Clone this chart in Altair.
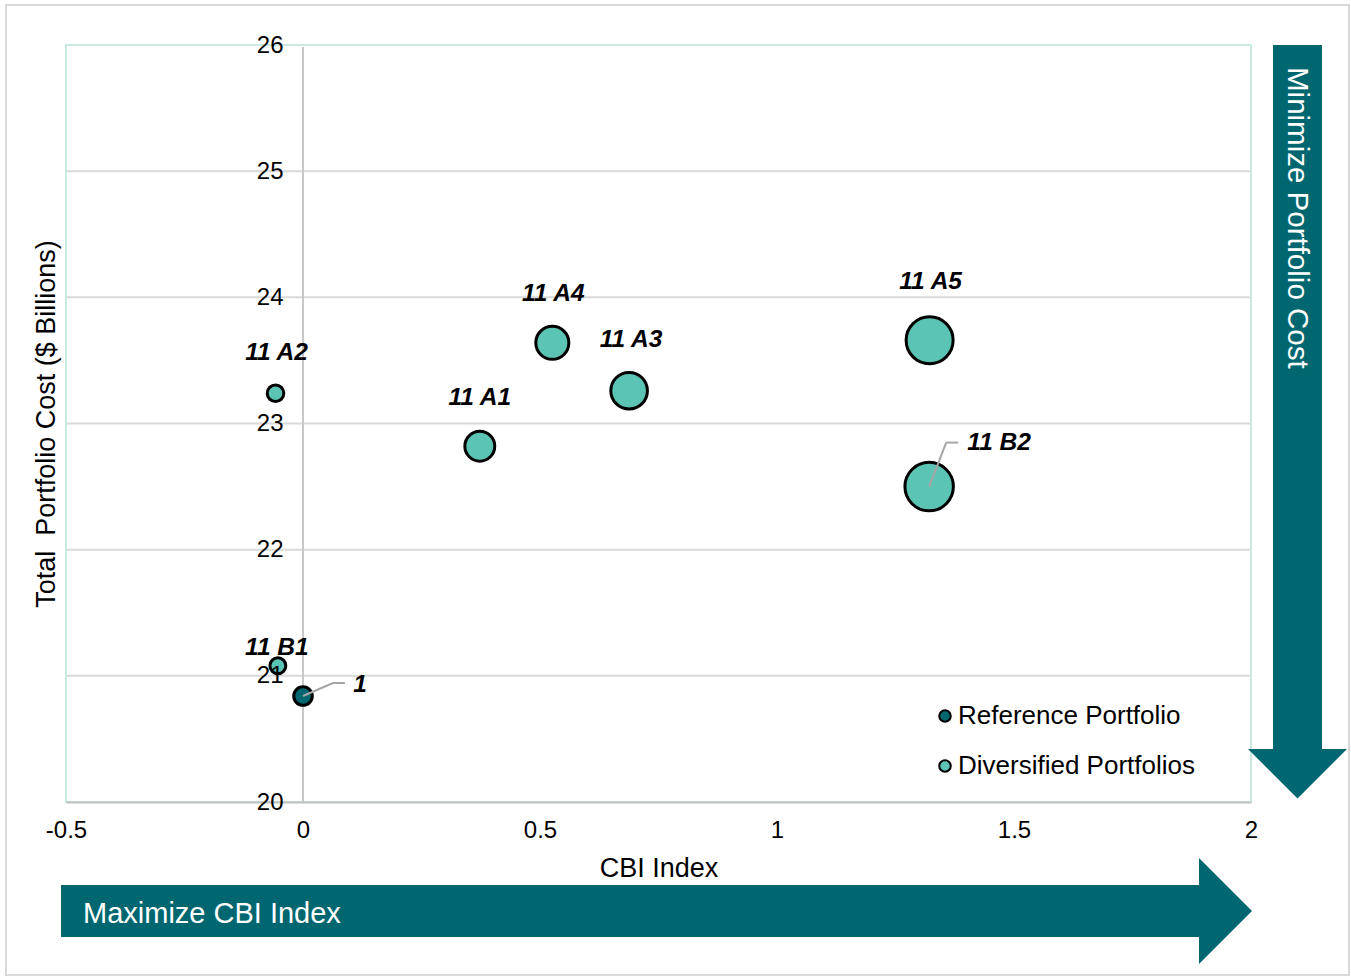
import altair as alt
import pandas as pd

# ---- data -------------------------------------------------------------
portfolios = ["1", "11 A1", "11 A2", "11 A3", "11 A4", "11 A5", "11 B1", "11 B2"]
groups = ["Reference Portfolio"] + ["Diversified Portfolios"] * 7
cbi_index = [0.0, 0.373, -0.058, 0.688, 0.526, 1.322, -0.053, 1.321]
total_cost = [20.84, 22.82, 23.24, 23.26, 23.64, 23.66, 21.08, 22.50]
bubble_size = [0.147, 0.38, 0.117, 0.57, 0.465, 0.94, 0.108, 1.0]

x_ticks = [-0.5, 0, 0.5, 1, 1.5, 2]
y_ticks = [20, 21, 22, 23, 24, 25, 26]
legend_order = ["Reference Portfolio", "Diversified Portfolios"]

df = pd.DataFrame({
    "portfolio": portfolios,
    "group": groups,
    "cbi": cbi_index,
    "cost": total_cost,
    "bubble": bubble_size,
})
grid_df = pd.DataFrame({"cost": y_ticks})

# ---- layout / style -----------------------------------------------------
W, H = 1351, 976
LEFT, TOP = 66, 45           # plot origin inside the page
PW, PH = 1185, 757           # plot area
DARK = "#00666F"
LIGHT = "#5BC4B5"
FONT = "Liberation Sans"
X_DOMAIN = [-0.5, 2]
Y_DOMAIN = [20, 26]

# y axis labels sit next to x = 0
y_axis_offset = -(0 - X_DOMAIN[0]) / (X_DOMAIN[1] - X_DOMAIN[0]) * PW

x_scale = alt.Scale(domain=X_DOMAIN, nice=False, zero=False)
y_scale = alt.Scale(domain=Y_DOMAIN, nice=False, zero=False)

x_enc = alt.X(
    "cbi:Q", scale=x_scale,
    axis=alt.Axis(values=x_ticks, title="CBI Index", labelExpr="datum.value + ''",
                  grid=False, ticks=False, domainColor="#BFBFBF", domainWidth=2,
                  labelFontSize=24, labelColor="black", labelPadding=16, labelFlush=False,
                  titleFontSize=27, titleFontWeight="normal", titleColor="black",
                  titlePadding=13, zindex=1),
)
y_enc = alt.Y(
    "cost:Q", scale=y_scale,
    axis=alt.Axis(values=y_ticks, title=None, labelExpr="datum.value + ''",
                  offset=y_axis_offset, grid=False, ticks=False, domain=False,
                  labelFlush=False, labelFontSize=24, labelColor="black",
                  labelPadding=20, zindex=2),
)


def px(ax, ay):
    """page pixel -> plot-relative pixel"""
    return ax - LEFT, ay - TOP


one = pd.DataFrame({"k": [0]})

# outer frame of the figure
ox1, oy1 = px(6, 5)
ox2, oy2 = px(1349, 975)
outer = alt.Chart(one).mark_rect(fillOpacity=0, stroke="#D9D9D9", strokeWidth=2).encode(
    x=alt.value(ox1), x2=alt.value(ox2), y=alt.value(oy1), y2=alt.value(oy2))

# horizontal gridlines at the inner y tick values
grid = alt.Chart(grid_df).transform_filter(
    (alt.datum.cost > Y_DOMAIN[0]) & (alt.datum.cost < Y_DOMAIN[1])
).mark_rule(color="#D9D9D9", strokeWidth=2).encode(
    y=alt.Y("cost:Q", scale=y_scale), x=alt.value(0), x2=alt.value(PW))

# plot frame
frame = alt.Chart(one).mark_rect(fillOpacity=0, stroke="#C9E9E3", strokeWidth=2).encode(
    x=alt.value(0), x2=alt.value(PW), y=alt.value(0), y2=alt.value(PH))

# vertical axis line at CBI = 0
zero_line = alt.Chart(one).mark_rule(color="#C8C8C8", strokeWidth=2).encode(
    x=alt.X(datum=0, scale=x_scale), y=alt.value(2), y2=alt.value(PH))

# vertical arrow: "Minimize Portfolio Cost"
vx1, vy1 = px(1273, 45)
vx2, vy2 = px(1322, 749)
v_body = alt.Chart(one).mark_rect(color=DARK).encode(
    x=alt.value(vx1), x2=alt.value(vx2), y=alt.value(vy1), y2=alt.value(vy2))
hx, hy = px(1297.5, 749)
v_head = alt.Chart(one).mark_point(shape="M-1,0L1,0L0,1Z", filled=True, opacity=1,
                                     color=DARK, size=99 ** 2).encode(
    x=alt.value(hx), y=alt.value(hy))
tx, ty = px(1297, 67)
v_text = alt.Chart(one).mark_text(text="Minimize Portfolio Cost", angle=90, align="left",
                                   baseline="middle", color="white", fontSize=29.5,
                                   font=FONT).encode(x=alt.value(tx), y=alt.value(ty))

# horizontal arrow: "Maximize CBI Index"
bx1, by1 = px(61, 885)
bx2, by2 = px(1199, 937)
h_body = alt.Chart(one).mark_rect(color=DARK).encode(
    x=alt.value(bx1), x2=alt.value(bx2), y=alt.value(by1), y2=alt.value(by2))
gx, gy = px(1199, 911)
h_head = alt.Chart(one).mark_point(shape="M0,-1L1,0L0,1Z", filled=True, opacity=1,
                                     color=DARK, size=106 ** 2).encode(
    x=alt.value(gx), y=alt.value(gy))
sx, sy = px(83, 914)
h_text = alt.Chart(one).mark_text(text="Maximize CBI Index", align="left",
                                   baseline="middle", color="white", fontSize=29,
                                   font=FONT).encode(x=alt.value(sx), y=alt.value(sy))

# y axis title
yx, yy = px(47, 424)
y_title = alt.Chart(one).mark_text(text="Total \u00a0Portfolio Cost ($ Billions)", angle=270,
                                    align="center", baseline="middle", color="black",
                                    fontSize=27, font=FONT).encode(
    x=alt.value(yx), y=alt.value(yy))

base = alt.Chart(df).encode(x=x_enc, y=y_enc)

bubbles = base.mark_circle(opacity=1, stroke="black", strokeWidth=3).encode(
    size=alt.Size("bubble:Q", scale=alt.Scale(domain=[0, 1], range=[0, 2350]), legend=None),
    color=alt.Color(
        "group:N",
        scale=alt.Scale(domain=legend_order, range=[DARK, LIGHT]),
        legend=alt.Legend(title=None, orient="none", legendX=866, legendY=658,
                          labelFontSize=26, labelColor="black", labelFont=FONT,
                          labelLimit=0, symbolType="circle", symbolSize=133,
                          symbolStrokeColor="black", symbolStrokeWidth=2,
                          symbolOpacity=1, rowPadding=24, labelOffset=0, padding=0),
    ),
)

# leader lines (pixel offsets from the bubble centre)
leaders = {
    "1": [(0, 0), (30, -13), (42, -13)],
    "11 B2": [(0, 0), (17, -44), (29, -44)],
}
leader_layers = []
for name, pts in leaders.items():
    for (ax_, ay_), (bx_, by_) in zip(pts[:-1], pts[1:]):
        leader_layers.append(
            base.transform_filter(alt.datum.portfolio == name)
            .mark_rule(color="#A6A6A6", strokeWidth=2,
                       xOffset=ax_, yOffset=ay_, x2Offset=bx_, y2Offset=by_)
            .encode(x2=alt.X2("cbi:Q"), y2=alt.Y2("cost:Q"))
        )

# label placement (pixel offsets of label centre from bubble centre)
label_offsets = {
    "1": (57, -11),
    "11 A1": (0, -48),
    "11 A2": (1, -40),
    "11 A3": (2, -51),
    "11 A4": (1, -49),
    "11 A5": (1, -58),
    "11 B1": (-1, -18),
    "11 B2": (70, -44),
}
label_layers = []
for name, (dx, dy) in label_offsets.items():
    label_layers.append(
        base.transform_filter(alt.datum.portfolio == name)
        .mark_text(dx=dx, dy=dy, align="center", baseline="middle", fontSize=24.5,
                   fontWeight="bold", fontStyle="italic", font=FONT, color="black")
        .encode(text="portfolio:N")
    )

chart = alt.layer(
    outer, grid, frame, zero_line, v_body, v_head, v_text, h_body, h_head, h_text, y_title,
    bubbles, *leader_layers, *label_layers,
).properties(
    width=PW, height=PH,
    padding={"left": LEFT, "top": TOP, "right": W - LEFT - PW, "bottom": H - TOP - PH},
    autosize=alt.AutoSizeParams(type="none"),
).configure(
    font=FONT,
).configure_view(
    stroke=None,
)

chart.save("out.html", embed_options={"renderer": "svg", "actions": False})
